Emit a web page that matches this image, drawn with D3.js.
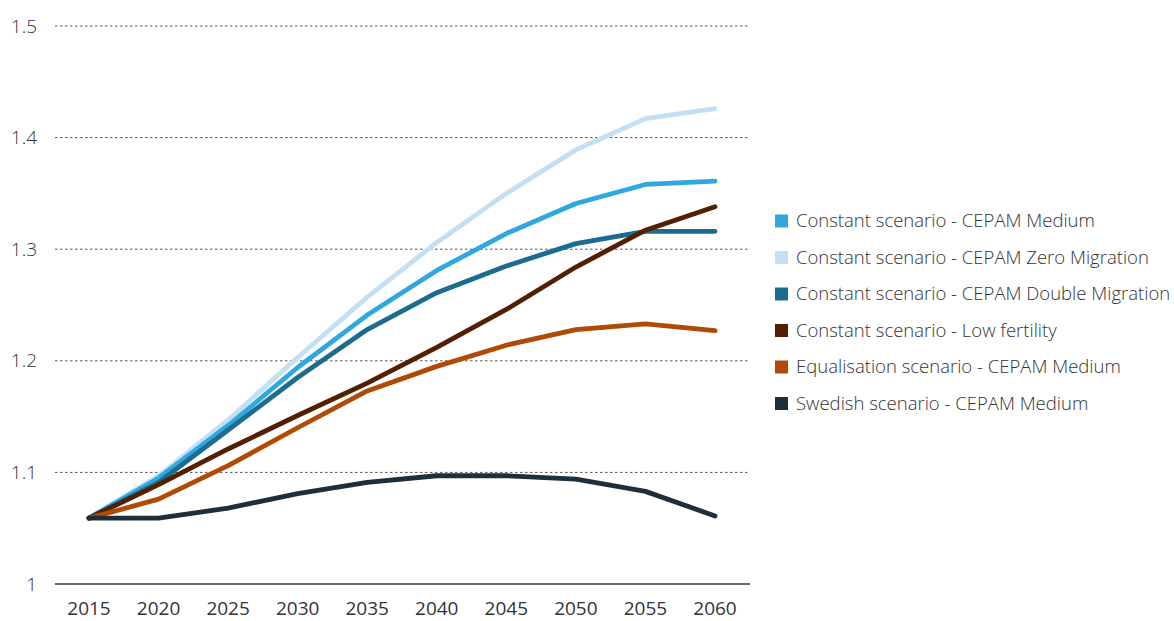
<!DOCTYPE html>
<html><head><meta charset="utf-8">
<script src="https://cdn.jsdelivr.net/npm/d3@7"></script>
<style>
body{margin:0;background:#fff;}
svg text{font-family:"Open Sans","DejaVu Sans",sans-serif;fill:#333;}
</style></head>
<body><svg id="c" width="1174" height="621"></svg>
<script>
const years = [2015,2020,2025,2030,2035,2040,2045,2050,2055,2060];
const yTicks = [1,1.1,1.2,1.3,1.4,1.5];
const seriesNames = [
 "Constant scenario - CEPAM Medium",
 "Constant scenario - CEPAM Zero Migration",
 "Constant scenario - CEPAM Double Migration",
 "Constant scenario - Low fertility",
 "Equalisation scenario - CEPAM Medium",
 "Swedish scenario - CEPAM Medium"
];
const seriesColors = ["#2fa8e0","#c3dff4","#1b6c8e","#522000","#b04a05","#1e2e3a"];
const medium = [1.059,1.095,1.142,1.194,1.241,1.281,1.314,1.341,1.358,1.361];
const zeroMigration = [1.059,1.097,1.147,1.203,1.257,1.306,1.350,1.389,1.417,1.426];
const doubleMigration = [1.059,1.091,1.138,1.185,1.228,1.261,1.285,1.305,1.316,1.316];
const lowFertility = [1.059,1.089,1.121,1.151,1.180,1.212,1.246,1.284,1.317,1.338];
const equalisation = [1.059,1.076,1.106,1.140,1.173,1.195,1.214,1.228,1.233,1.227];
const swedish = [1.059,1.059,1.068,1.081,1.091,1.097,1.097,1.094,1.083,1.061];
const seriesValues = [medium,zeroMigration,doubleMigration,lowFertility,equalisation,swedish];
const drawOrder = [1,0,2,3,4,5];

const svg = d3.select("#c");
const x = d3.scalePoint().domain(years).range([89,715]);
const y = d3.scaleLinear().domain([1,1.5]).range([584,26]);

const g = svg.append("g");
yTicks.forEach(t=>{
  g.append("line").attr("x1",55).attr("x2",750).attr("y1",y(t)).attr("y2",y(t))
   .attr("stroke",t===1?"#333":"#555").attr("stroke-width",t===1?1.3:1)
   .attr("stroke-dasharray",t===1?null:"2.5,2.5");
  g.append("text").attr("x",37).attr("y",y(t)).attr("dy","0.35em")
   .attr("text-anchor","end").attr("font-size",19).attr("font-weight",300).text(String(t));
});
years.forEach(yr=>{
  g.append("text").attr("x",x(yr)).attr("y",615).attr("text-anchor","middle")
   .attr("font-size",19).attr("font-weight",400).text(yr);
});

const line = d3.line().x((d,i)=>x(years[i])).y(d=>y(d));
drawOrder.forEach(i=>{
  svg.append("path").datum(seriesValues[i]).attr("d",line)
   .attr("fill","none").attr("stroke",seriesColors[i]).attr("stroke-width",4.8)
   .attr("stroke-linecap","round").attr("stroke-linejoin","round");
});

const leg = svg.append("g");
seriesNames.forEach((n,i)=>{
  const cy = 221 + i*36.5;
  leg.append("rect").attr("x",775).attr("y",cy-6.5).attr("width",13).attr("height",13).attr("fill",seriesColors[i]);
  leg.append("text").attr("x",796).attr("y",cy).attr("dy","0.35em").attr("font-size",18.5).attr("font-weight",300).text(n);
});
</script></body></html>
